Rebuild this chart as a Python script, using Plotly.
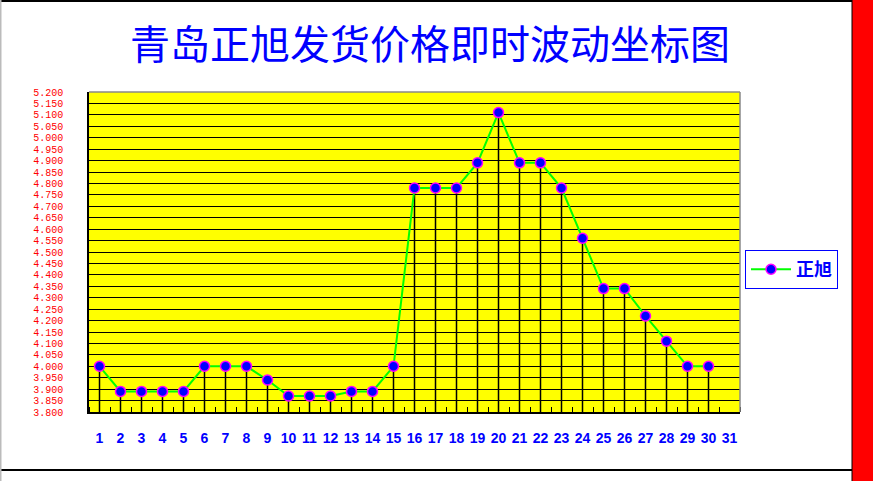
import plotly.graph_objects as go

days = list(range(1, 32))
prices = [4.00, 3.89, 3.89, 3.89, 3.89, 4.00, 4.00, 4.00, 3.94, 3.87,
          3.87, 3.87, 3.89, 3.89, 4.00, 4.78, 4.78, 4.78, 4.89, 5.11,
          4.89, 4.89, 4.78, 4.56, 4.34, 4.34, 4.22, 4.11, 4.00, 4.00]
series_name = "正旭"
title_text = "青岛正旭发货价格即时波动坐标图"
y_min, y_max, y_step = 3.80, 5.20, 0.05
n_ticks = int(round((y_max - y_min) / y_step)) + 1
y_tickvals = [round(y_min + i * y_step, 2) for i in range(n_ticks)]
y_ticktext = [f"{v:.3f}" for v in y_tickvals]

W, H = 873, 481
L, R, T, B = 89, 740, 92, 412

def px_x(p):
    return (p - L) / (R - L)

def px_y(p):
    return (B - p) / (B - T)

# drop lines from each point to the axis floor
drop_x, drop_y = [], []
for d, v in zip(days, prices):
    drop_x += [d, d, None]
    drop_y += [y_min, v, None]

fig = go.Figure()
fig.add_trace(go.Scatter(x=drop_x, y=drop_y, mode="lines",
                         line=dict(color="black", width=1.5),
                         showlegend=False, hoverinfo="skip"))
fig.add_trace(go.Scatter(x=days[:len(prices)], y=prices, mode="lines+markers",
                         name=series_name,
                         line=dict(color="#00FF00", width=2),
                         marker=dict(symbol="circle", size=10, color="#0000FF",
                                     line=dict(color="#FF00FF", width=1.5))))

shapes = [
    # red strip at right
    dict(type="rect", xref="paper", yref="paper",
         x0=px_x(852), x1=px_x(875), y0=px_y(482), y1=px_y(-2),
         fillcolor="#FF0000", line=dict(color="black", width=1), layer="above"),
    # bottom line
    dict(type="line", xref="paper", yref="paper",
         x0=px_x(0), x1=px_x(852), y0=px_y(470), y1=px_y(470),
         line=dict(color="black", width=2)),
    # top line
    dict(type="line", xref="paper", yref="paper",
         x0=px_x(0), x1=px_x(852), y0=px_y(1), y1=px_y(1),
         line=dict(color="black", width=2)),
    # left gray edge
    dict(type="line", xref="paper", yref="paper",
         x0=px_x(0.5), x1=px_x(0.5), y0=px_y(0), y1=px_y(481),
         line=dict(color="#BBBBBB", width=2)),
    # plot border top/right gray
    dict(type="line", xref="paper", yref="paper",
         x0=0, x1=1, y0=1, y1=1, line=dict(color="#888888", width=1.5)),
    dict(type="line", xref="paper", yref="paper",
         x0=1, x1=1, y0=0, y1=1, line=dict(color="#888888", width=1.5)),
]

fig.update_layout(
    width=W, height=H,
    margin=dict(l=L, r=W - R, t=T, b=H - B),
    paper_bgcolor="white",
    plot_bgcolor="#FFFF00",
    title=dict(text=title_text, x=430 / W, xanchor="center",
               y=1 - 45 / H, yanchor="middle",
               font=dict(family="Noto Sans CJK SC", size=40, color="#0000FF")),
    xaxis=dict(range=[0.5, 31.5], tickmode="array", tickvals=days,
               ticktext=[str(d) for d in days], showgrid=False,
               zeroline=False, ticks="", showline=True, linecolor="black",
               linewidth=1.5, ticklabelstandoff=12,
               tickfont=dict(family="Liberation Sans", size=14, color="#0000FF",
                             weight="bold"),
               minor=dict(tick0=0.5, dtick=1, ticks="inside", ticklen=5,
                          tickcolor="black", tickwidth=1, showgrid=False)),
    yaxis=dict(range=[y_min, y_max], tickmode="array", tickvals=y_tickvals,
               ticktext=y_ticktext, showgrid=True, gridcolor="black",
               gridwidth=1.2, zeroline=False, showline=True, linecolor="black",
               linewidth=1.5, ticks="", ticklabelstandoff=22,
               tickfont=dict(family="Liberation Mono", size=10, color="#FF0000")),
    legend=dict(x=px_x(745), y=px_y(250), xanchor="left", yanchor="top",
                bgcolor="white", bordercolor="#0000FF", borderwidth=1,
                font=dict(family="Noto Sans CJK SC", size=18, color="#0000FF",
                          weight="bold"),
                itemwidth=40),
    shapes=shapes,
    showlegend=True,
)

fig.write_html("out.html", config={"displayModeBar": False},
               post_script="document.body.style.margin='0';document.body.style.overflow='hidden';")
